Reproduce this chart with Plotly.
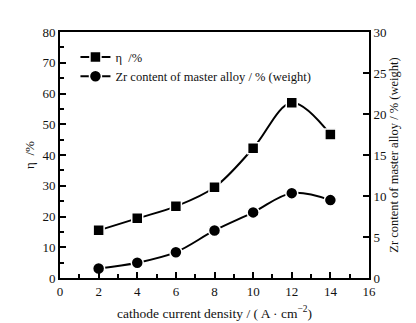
import plotly.graph_objects as go

x_density = [2, 4, 6, 8, 10, 12, 14]
eta_values = [15.5, 19.4, 23.3, 29.5, 42.2, 57.0, 46.7]
zr_values = [1.15, 1.85, 3.15, 5.8, 8.0, 10.35, 9.5]

x_ticks = [0, 2, 4, 6, 8, 10, 12, 14, 16]
eta_ticks = [0, 10, 20, 30, 40, 50, 60, 70, 80]
zr_ticks = [0, 5, 10, 15, 20, 25, 30]

FONT = "Liberation Serif"
INK = "#111111"

fig = go.Figure()
fig.add_trace(go.Scatter(
    x=x_density, y=eta_values, name="η  /%",
    mode="lines+markers", line=dict(color="black", width=2, shape="spline", smoothing=1.0),
    marker=dict(symbol="square", size=11, color="black", line=dict(color="white", width=1.5)),
    yaxis="y",
))
fig.add_trace(go.Scatter(
    x=x_density, y=zr_values, name="Zr content of master alloy / % (weight)",
    mode="lines+markers", line=dict(color="black", width=2, shape="spline", smoothing=1.0),
    marker=dict(symbol="circle", size=12, color="black", line=dict(color="white", width=1.5)),
    yaxis="y2",
))

axis_common = dict(
    showline=True, linecolor="black", linewidth=2, showgrid=False, zeroline=False,
    ticks="inside", tickcolor="black", tickwidth=2,
    tickfont=dict(family=FONT, size=13, color=INK),
)

fig.update_layout(
    width=416, height=323,
    margin=dict(l=52, r=55, t=24, b=49),
    paper_bgcolor="white", plot_bgcolor="white",
    font=dict(family=FONT, color=INK, size=12),
    showlegend=True,
    legend=dict(x=0.05, y=0.958, xanchor="left", yanchor="top", bgcolor="rgba(0,0,0,0)",
                font=dict(family=FONT, size=12.5, color=INK), itemwidth=30, tracegroupgap=4),
    xaxis=dict(
        **axis_common, range=[0, 16], tickvals=x_ticks, ticklen=6, mirror=True,
        minor=dict(dtick=1, ticklen=4, ticks="inside", tickcolor="black", tickwidth=2),
        title=dict(text="cathode current density / ( A · cm<sup>−2</sup>)",
                   font=dict(family=FONT, size=13.5, color=INK), standoff=11),
    ),
    yaxis=dict(
        **axis_common, range=[0, 80], tickvals=eta_ticks, ticklen=6,
        minor=dict(dtick=5, ticklen=4, ticks="inside", tickcolor="black", tickwidth=2),
        title=dict(text="η  /%", font=dict(family=FONT, size=13, color=INK), standoff=5),
    ),
    yaxis2=dict(
        **axis_common, range=[0, 30], tickvals=zr_ticks, ticklen=6,
        overlaying="y", side="right",
        title=dict(text="Zr content of master alloy / % (weight)",
                   font=dict(family=FONT, size=12.5, color=INK), standoff=0),
    ),
)

fig.write_html("out.html")
